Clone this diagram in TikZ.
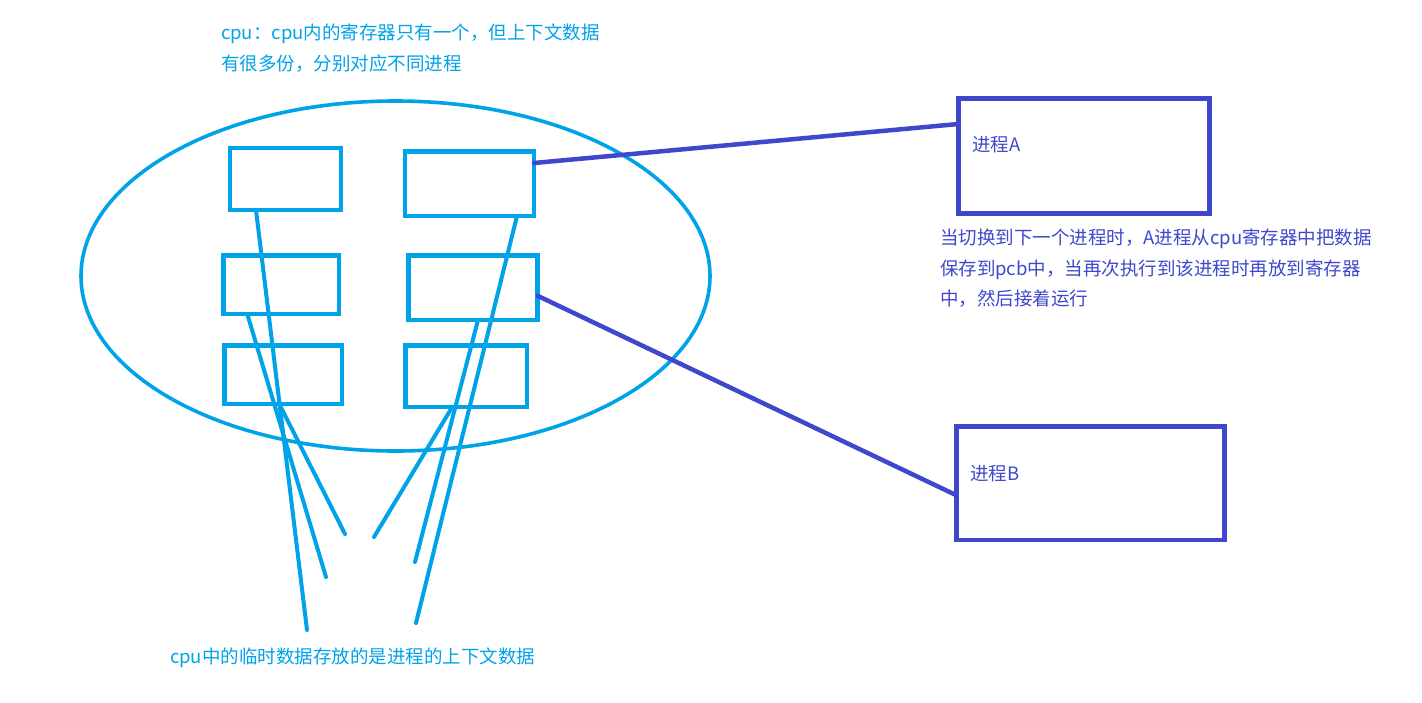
\documentclass[tikz,border=0pt]{standalone}
\usepackage{fontspec}
\setmainfont{Noto Sans CJK SC}
\usetikzlibrary{shapes.geometric}
\definecolor{cya}{RGB}{0,162,232}
\definecolor{ind}{RGB}{63,72,204}
\tikzset{
  reg/.style={draw=cya, line width=4.7pt, inner sep=0pt, outer sep=0pt},
  proc/.style={draw=ind, line width=4.7pt, inner sep=0pt, outer sep=0pt},
  cline/.style={draw=cya, line width=4pt, line cap=round},
  pline/.style={draw=ind, line width=4.5pt, line cap=round},
  txt/.style={inner sep=0pt, outer sep=0pt, align=left, font=\fontsize{18.5}{30.5}\selectfont},
}
\begin{document}
\begin{tikzpicture}[x=1pt,y=-1pt]
\useasboundingbox (0,0) rectangle (1422,702);
% ellipse
\node[draw=cya, line width=3.6pt, ellipse, minimum width=629pt, minimum height=350pt, inner sep=0pt] (cpu) at (395.5,276) {};
% registers
\node[reg, minimum width=111pt, minimum height=62pt] (r1) at (285.5,179) {};
\node[reg, minimum width=129pt, minimum height=64.5pt] (r2) at (469.5,183.75) {};
\node[reg, minimum width=115.5pt, minimum height=58.5pt] (r3) at (281.25,284.75) {};
\node[reg, minimum width=129pt, minimum height=64.5pt] (r4) at (473,287.75) {};
\node[reg, minimum width=117.5pt, minimum height=58.5pt] (r5) at (283.25,374.75) {};
\node[reg, minimum width=121.5pt, minimum height=61.5pt] (r6) at (466.25,376.25) {};
% processes
\node[proc, minimum width=251pt, minimum height=115.4pt] (pa) at (1083.8,156) {};
\node[proc, minimum width=268pt, minimum height=113.7pt] (pb) at (1090.3,483.2) {};
\node[txt, text=ind, anchor=base west] (la) at (972,151.5) {进程A};
\node[txt, text=ind, anchor=base west] (lb) at (970,480.5) {进程B};
% free ends
\coordinate (e1) at (307,630);
\coordinate (e2) at (326,577);
\coordinate (e3) at (345,534);
\coordinate (e4) at (416,623);
\coordinate (e5) at (415,562);
\coordinate (e6) at (374,537);
% cyan lines
\draw[cline] ([xshift=-29.5pt]r1.south) -- (e1);
\draw[cline] ([xshift=-34pt]r3.south) -- (e2);
\draw[cline] ([xshift=-4pt]r5.south) -- (e3);
\draw[cline] ([xshift=47.5pt]r2.south) -- (e4);
\draw[cline] ([xshift=5pt]r4.south) -- (e5);
\draw[cline] ([xshift=-14pt]r6.south) -- (e6);
% purple lines
\draw[pline] ([yshift=20.75pt]r2.east) -- ([yshift=32pt]pa.west);
\draw[pline] ([yshift=-8pt]r4.east) -- ([yshift=-12pt]pb.west);
% texts
\node[txt, text=cya, anchor=north west] (t1) at (221,24) {cpu：cpu内的寄存器只有一个，但上下文数据\\有很多份，分别对应不同进程};
\node[txt, text=ind, anchor=north west] (t2) at (940,229) {当切换到下一个进程时，A进程从cpu寄存器中把数据\\保存到pcb中，当再次执行到该进程时再放到寄存器\\中，然后接着运行};
\node[txt, text=cya, anchor=base west] (t3) at (170,663.5) {cpu中的临时数据存放的是进程的上下文数据};
\end{tikzpicture}
\end{document}
